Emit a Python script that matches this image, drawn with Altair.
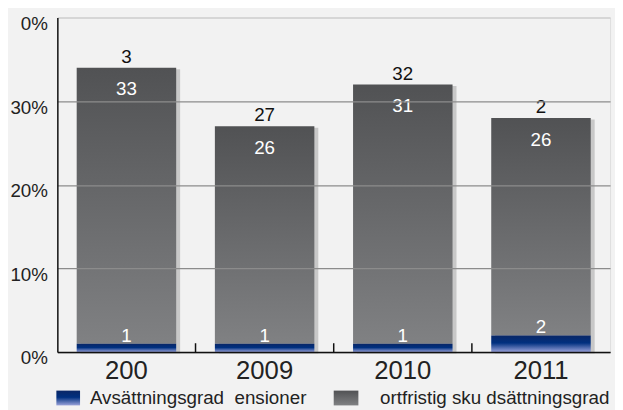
import altair as alt
import pandas as pd

categories = ["200", "2009", "2010", "2011"]
pension = [1, 1, 1, 2]
short_debt = [33, 26, 31, 26]
total_values = [34, 27, 32, 28]
total_labels = ["3", "27", "32", "2"]
y_ticks = [0, 10, 20, 30, 40]
legend_labels = ["Avsättningsgrad\u00a0 ensioner", "ortfristig sku dsättningsgrad"]

df = pd.DataFrame({
    "cat": categories,
    "pension": pension,
    "debt": short_debt,
    "top": [p + d for p, d in zip(pension, short_debt)],
    "total": total_values,
    "total_label": total_labels,
})
tick_df = df.iloc[:3]
one = pd.DataFrame({"k": [0]})

W, H = 560, 339
FONT = "Liberation Sans"

gray_grad = alt.Gradient(
    gradient="linear", x1=0, x2=0, y1=0, y2=1,
    stops=[alt.GradientStop(color="#515254", offset=0),
           alt.GradientStop(color="#808183", offset=1)])
blue_grad = alt.Gradient(
    gradient="linear", x1=0, x2=0, y1=0, y2=1,
    stops=[alt.GradientStop(color="#0a2766", offset=0),
           alt.GradientStop(color="#00307f", offset=0.45),
           alt.GradientStop(color="#9aa2da", offset=1)])

xenc = alt.X("cat:N", sort=categories,
             scale=alt.Scale(paddingInner=0, paddingOuter=0),
             axis=alt.Axis(title=None, labelAngle=0, ticks=False, grid=False,
                           labelFontSize=26, labelPadding=6, labelColor="#222222",
                           domainColor="#111111", domainWidth=1.5, zindex=2))
yscale = alt.Scale(domain=[0, 40], nice=False)
yaxis = alt.Axis(title=None, values=y_ticks, ticks=False, labelFontSize=19,
                 labelPadding=10, labelOffset=6, labelColor="#222222",
                 labelExpr="datum.value == 40 ? '0%' : datum.value + '%'",
                 domainColor="#111111", domainWidth=1.5, zindex=2,
                 grid=True,
                 gridColor=alt.condition("datum.value == 40", alt.value("#c4c4c4"), alt.value("#8c8c8c")),
                 gridWidth=1.2)

base = alt.Chart(df)
bw = alt.RelativeBandSize(0.72)

shadow = base.mark_bar(color="#c8c8c8", xOffset=4, yOffset=1.5, width=bw).encode(
    x=xenc, y=alt.Y("total:Q", scale=yscale, axis=yaxis))
debt = base.mark_bar(color=gray_grad, width=bw).encode(
    x=alt.X("cat:N", sort=categories), y=alt.Y("pension:Q", scale=yscale), y2="top:Q")
pens = base.mark_bar(color=blue_grad, width=bw).encode(
    x=alt.X("cat:N", sort=categories), y=alt.Y("pension:Q", scale=yscale))
debt_lbl = base.mark_text(color="white", fontSize=19, baseline="alphabetic", dy=28, font=FONT).encode(
    x=alt.X("cat:N", sort=categories), y=alt.Y("top:Q", scale=yscale), text="debt:Q")
pens_lbl = base.mark_text(color="white", fontSize=19, baseline="alphabetic", dy=-2, font=FONT).encode(
    x=alt.X("cat:N", sort=categories), y=alt.Y("pension:Q", scale=yscale), text="pension:Q")
tot_lbl = base.mark_text(color="#111111", fontSize=19, baseline="alphabetic", dy=-5, font=FONT).encode(
    x=alt.X("cat:N", sort=categories), y=alt.Y("total:Q", scale=yscale), text="total_label:N")
ticks = alt.Chart(tick_df).mark_rule(color="#111111", strokeWidth=1.5).encode(
    x=alt.X("cat:N", sort=categories, bandPosition=1),
    y=alt.value(H - 9), y2=alt.value(H))

leg = alt.Chart(one)
leg_blue = leg.mark_rect(color=blue_grad).encode(
    x=alt.value(-1), x2=alt.value(23), y=alt.value(378), y2=alt.value(393))
leg_gray = leg.mark_rect(color=gray_grad).encode(
    x=alt.value(280), x2=alt.value(305), y=alt.value(378), y2=alt.value(393))
leg_t1 = leg.mark_text(align="left", baseline="middle", fontSize=19, color="#222222", font=FONT).encode(
    x=alt.value(33), y=alt.value(386), text=alt.value(legend_labels[0]))
leg_t2 = leg.mark_text(align="left", baseline="middle", fontSize=19, color="#222222", font=FONT).encode(
    x=alt.value(327), y=alt.value(386), text=alt.value(legend_labels[1]))

chart = alt.layer(shadow, debt, pens, debt_lbl, pens_lbl, tot_lbl, ticks,
                  leg_blue, leg_gray, leg_t1, leg_t2).properties(
    width=W, height=H,
    autosize=alt.AutoSizeParams(type="none"),
    padding={"left": 50, "top": 7, "right": 5, "bottom": 56},
    background="#f2f2f2",
).configure_view(fill="white", stroke="#c4c4c4", strokeWidth=1.5
).configure(font=FONT)

chart.save("out.html", embed_options={"renderer": "svg", "actions": False})
